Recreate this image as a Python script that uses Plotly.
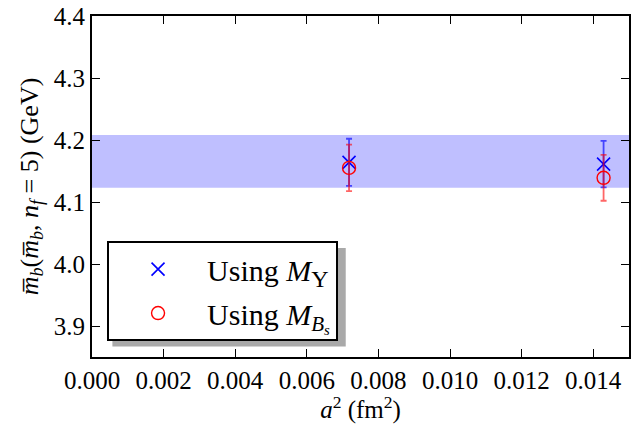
import plotly.graph_objects as go

# data
a2 = [0.00718, 0.01429]
mb_upsilon = [4.164, 4.161]
err_upsilon = [0.038, 0.0375]
mb_bs = [4.155, 4.139]
err_bs = [0.0375, 0.037]
band_lo = 4.123
band_hi = 4.208
x_ticks = [0.000, 0.002, 0.004, 0.006, 0.008, 0.010, 0.012, 0.014]
y_ticks = [3.9, 4.0, 4.1, 4.2, 4.3, 4.4]

FONT = "Liberation Serif"

fig = go.Figure()
fig.add_shape(type="rect", xref="paper", x0=0, x1=1, y0=band_lo, y1=band_hi,
              fillcolor="rgb(191,191,255)", line_width=0, layer="below")

fig.add_trace(go.Scatter(
    x=a2, y=mb_upsilon, mode="markers",
    name="Using <i>M</i><sub><span style='font-size:24px'>Υ</span></sub>",
    legendgroup="u",
    marker=dict(symbol="x-thin", size=13, color="blue", line=dict(color="blue", width=1.6)),
    error_y=dict(type="data", array=err_upsilon, color="rgba(0,0,255,0.65)", thickness=1.8, width=3),
))
fig.add_trace(go.Scatter(
    x=a2, y=mb_bs, mode="markers",
    name="Using <i>M</i><sub><i>B</i><sub><i>s</i></sub></sub>",
    legendgroup="b",
    marker=dict(symbol="circle-open", size=13, color="red", line=dict(color="red", width=1.4)),
    error_y=dict(type="data", array=err_bs, color="rgba(255,0,0,0.6)", thickness=1.8, width=3),
))

# legend shadow (paper coords matching the legend box offset by a few px)
fig.add_shape(type="rect", xref="paper", yref="paper", x0=0.038, x1=0.4725, y0=0.031, y1=0.32,
              fillcolor="rgba(140,140,140,0.75)", line_width=0, layer="above")

fig.update_layout(
    width=634, height=424,
    margin=dict(l=92, r=5, t=16, b=67),
    paper_bgcolor="white", plot_bgcolor="white",
    font=dict(family=FONT, size=25, color="black"),
    showlegend=True,
    legend=dict(x=0.028, y=0.34, xanchor="left", yanchor="top",
                bgcolor="white", bordercolor="black", borderwidth=2,
                font=dict(family=FONT, size=30), tracegroupgap=2, itemwidth=88),
    xaxis=dict(range=[0, 0.015], tickvals=x_ticks, tickformat=".3f", automargin=False,
               ticks="inside", ticklen=8, tickwidth=1.2, tickcolor="black",
               showline=True, linecolor="black", linewidth=2, mirror="ticks",
               showgrid=False, zeroline=False,
               title=dict(text="<i>a</i><sup>2</sup> (fm<sup>2</sup>)", standoff=3,
                          font=dict(size=25))),
    yaxis=dict(range=[3.85, 4.4], tickvals=y_ticks, tickformat=".1f", automargin=False,
               ticks="inside", ticklen=8, tickwidth=1.2, tickcolor="black",
               showline=True, linecolor="black", linewidth=2, mirror="ticks",
               showgrid=False, zeroline=False,
               title=dict(text="<i>m̅</i><sub><i>b</i></sub>(<i>m̅</i><sub><i>b</i></sub>, <i>n</i><sub><i>f</i></sub> = 5) (GeV)", standoff=8,
                          font=dict(size=26))),
)

fig.write_html("out.html", config={"displayModeBar": False},
               post_script="document.body.style.margin='0';document.body.style.overflow='hidden';")
